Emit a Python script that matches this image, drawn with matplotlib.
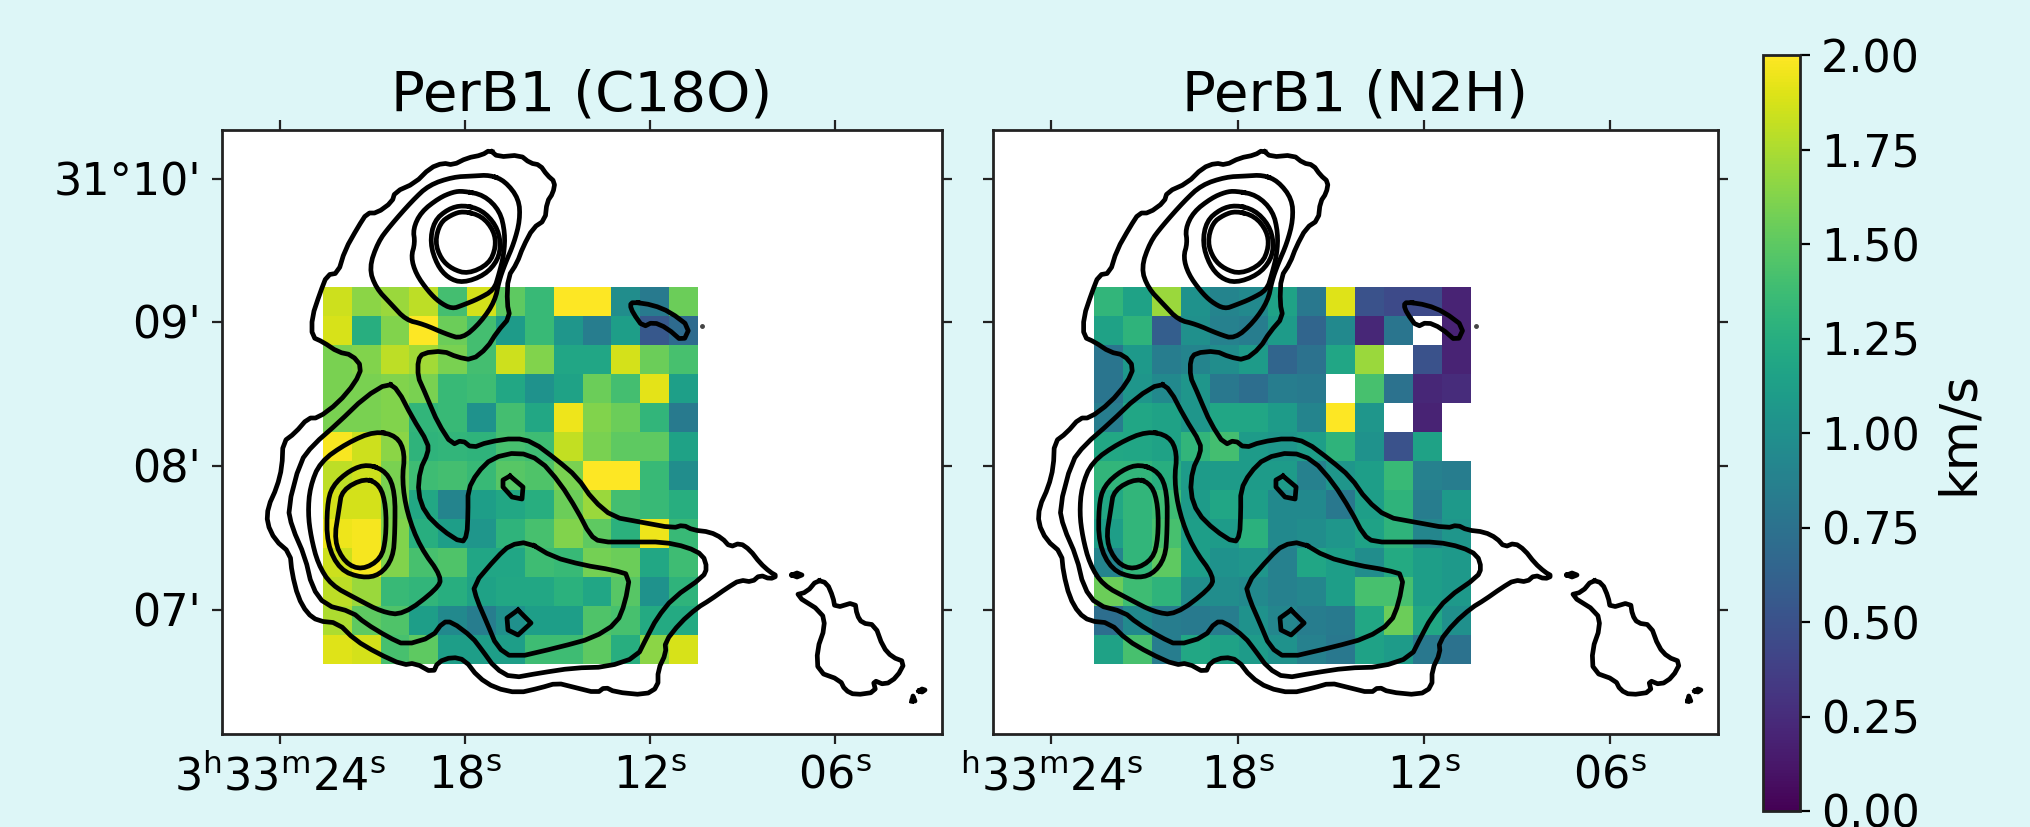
import numpy as np
import matplotlib
matplotlib.use('Agg')
import matplotlib.pyplot as plt

W, H = 2030, 827
BG = '#ddf6f7'

ra_labels = [r'$3^{\mathrm{h}}33^{\mathrm{m}}24^{\mathrm{s}}$', r'$18^{\mathrm{s}}$', r'$12^{\mathrm{s}}$', r'$06^{\mathrm{s}}$']
ra_labels2 = [r'$^{\mathrm{h}}33^{\mathrm{m}}24^{\mathrm{s}}$', r'$18^{\mathrm{s}}$', r'$12^{\mathrm{s}}$', r'$06^{\mathrm{s}}$']
dec_labels = ["31°10'", "09'", "08'", "07'"]
cbar_ticks = [0, 0.25, 0.5, 0.75, 1, 1.25, 1.5, 1.75, 2]

# map pixels, same as a wcs axes would use
ra_pix = [280, 465, 650, 835]
dec_pix = [178.7, 322, 465.7, 610]

c18o = [
    [1.85, 1.65, 1.70, 1.80, 1.40, 1.87, 1.50, 1.35, 2.00, 2.00, 0.98, 0.82, 1.55],
    [1.88, 1.25, 1.62, 2.00, 1.55, 1.40, 1.10, 1.35, 1.05, 0.85, 1.12, 0.55, 0.70],
    [1.60, 1.62, 1.80, 1.72, 1.60, 1.40, 1.85, 1.62, 1.18, 1.18, 1.87, 1.55, 1.42],
    [1.60, 1.60, 1.62, 1.60, 1.35, 1.38, 1.20, 1.02, 1.15, 1.55, 1.40, 1.92, 1.13],
    [1.60, 1.60, 1.62, 1.32, 1.35, 1.02, 1.40, 1.20, 1.95, 1.62, 1.55, 1.32, 0.82],
    [1.98, 1.85, 1.65, 1.30, 1.32, 1.30, 1.42, 1.38, 1.82, 1.60, 1.50, 1.50, 1.15],
    [1.80, 1.85, 1.60, 1.38, 1.40, 1.35, 1.48, 1.45, 1.60, 2.00, 2.00, 1.35, 0.98],
    [1.87, 1.87, 1.60, 1.20, 0.90, 1.12, 1.20, 1.25, 1.55, 1.70, 1.40, 1.35, 1.25],
    [1.95, 1.97, 1.62, 1.25, 1.12, 1.05, 1.30, 1.42, 1.62, 1.50, 1.28, 1.95, 1.35],
    [1.85, 1.97, 1.62, 1.42, 1.45, 1.18, 1.18, 1.38, 1.35, 1.58, 1.55, 1.20, 1.38],
    [1.80, 1.70, 1.35, 1.32, 1.25, 1.15, 1.20, 1.20, 1.28, 1.18, 1.48, 1.02, 1.30],
    [1.75, 1.50, 1.45, 1.12, 0.95, 0.85, 1.00, 1.12, 1.12, 1.45, 1.42, 1.22, 1.22],
    [1.90, 1.87, 1.42, 1.50, 1.12, 1.12, 1.12, 1.38, 1.38, 1.50, 1.25, 1.65, 1.88],
]

nan = float('nan')
n2h = [
    [1.32, 1.15, 1.70, 1.02, 0.90, 0.95, 1.15, 0.80, 1.90, 0.50, 0.45, 0.45, 0.20],
    [1.15, 1.30, 0.60, 1.00, 0.88, 0.85, 1.10, 0.65, 0.95, 0.22, 0.78, nan, 0.20],
    [0.78, 1.08, 0.85, 0.90, 0.98, 1.10, 0.65, 0.75, 1.18, 1.70, nan, 0.50, 0.20],
    [0.78, 1.05, 0.95, 1.05, 0.80, 0.72, 0.85, 0.82, nan, 1.42, 0.75, 0.22, 0.25],
    [0.85, 1.18, 1.15, 1.05, 1.18, 1.18, 1.10, 0.90, 2.00, 1.05, nan, 0.20, nan],
    [1.20, 1.18, 1.15, 1.32, 1.40, 1.10, 1.05, 1.12, 1.30, 1.02, 0.50, 1.15, nan],
    [1.32, 1.32, 1.25, 1.10, 1.10, 1.10, 1.10, 0.88, 1.05, 1.12, 1.35, 0.88, 0.85],
    [1.20, 1.32, 1.38, 1.10, 1.18, 1.12, 0.95, 0.95, 0.80, 1.12, 1.30, 0.85, 1.08],
    [1.12, 1.32, 1.42, 1.12, 1.10, 1.28, 0.95, 0.98, 1.05, 1.15, 1.30, 0.92, 1.05],
    [0.90, 1.32, 1.50, 1.12, 1.02, 1.05, 0.88, 1.18, 1.12, 0.98, 1.22, 1.12, 1.08],
    [1.55, 1.38, 1.30, 0.98, 0.98, 0.95, 0.88, 0.92, 1.12, 1.42, 1.42, 1.12, 1.08],
    [0.72, 0.95, 0.85, 0.82, 0.85, 1.02, 0.92, 0.85, 0.82, 1.20, 1.55, 1.20, 1.00],
    [1.15, 1.42, 0.85, 1.20, 1.15, 1.10, 1.02, 0.88, 0.80, 1.15, 1.10, 0.80, 0.75],
]

# contours, in map pixels
outer = [(490,150),(498,157),(520,155),(530,163),(540,165),(547,175),(555,182),(553,193),(547,202),(545,220),
    (533,228),(523,247),(517,263),(508,277),(507,303),(510,317),(497,332),(487,348),(472,360),(457,357),
    (443,351),(423,353),(418,360),(418,377),(423,388),(428,400),(438,423),(452,445),(462,440),(472,448),
    (488,442),(515,438),(533,442),(557,460),(577,477),(593,500),(613,517),(640,522),(673,528),(683,525),
    (693,530),(710,532),(722,538),(730,547),(740,543),(750,550),(760,563),(770,572),(777,576),(770,579),
    (760,575),(752,582),(740,580),(727,588),(710,600),(697,608),(680,623),(665,642),(666,653),(658,670),
    (658,687),(645,695),(615,692),(605,687),(597,693),(573,687),(557,683),(540,688),(518,693),(495,688),
    (478,677),(465,660),(452,657),(438,662),(433,673),(415,663),(403,665),(377,653),(355,640),(338,623),
    (318,621),(307,613),(298,597),(292,573),(290,553),(275,540),(267,523),(268,507),(277,487),(282,467),
    (283,442),(295,433),(308,418),(318,418),(338,403),(355,383),(362,367),(352,355),(338,352),(323,342),
    (312,337),(312,317),(320,293),(327,275),(338,273),(345,250),(358,227),(367,213),(377,213),(392,202),
    (395,192),(415,183),(430,168),(443,163),(453,165),(467,158),(482,155)]
island = [(817,580),(827,583),(833,597),(835,608),(855,602),(857,615),(862,623),(875,625),(883,647),(892,657),
    (905,662),(897,677),(885,685),(873,680),(876,692),(855,695),(845,690),(840,680),(818,672),(817,650),
    (825,627),(822,612),(795,595),(807,592)]
top2 = [(490,175),(505,181),(519,199),(520,220),(514,243),(505,264),(499,281),(495,301),(481,322),(462,339),
    (446,334),(423,324),(406,320),(391,304),(376,288),(369,268),(378,242),(390,226),(412,201),(429,185),
    (453,177),(473,176)]
top3 = [(463,191),(484,195),(500,211),(505,233),(504,254),(499,274),(494,290),(478,299),(463,305),(452,309),
    (439,302),(428,291),(416,274),(411,257),(415,243),(413,229),(421,212),(439,198),(453,192)]
top4 = [(463,205),(482,210),(496,225),(501,243),(498,260),(485,275),(463,283),(448,278),(437,265),(430,243),
    (434,221),(448,209)]
top5 = [(463,211),(482,216),(494,231),(496,247),(489,264),(468,274),(452,269),(441,259),(435,242),(440,223),
    (451,215)]
low2 = [(388,383),(398,390),(412,417),(428,443),(428,453),(420,470),(418,493),(425,513),(442,530),(462,543),
    (467,535),(468,513),(468,490),(477,473),(492,458),(518,452),(540,460),(560,483),(577,510),(590,535),
    (600,542),(633,542),(663,542),(687,547),(703,555),(707,568),(703,577),(673,598),(657,618),(647,637),
    (637,657),(607,667),(573,668),(540,673),(512,678),(495,668),(482,650),(472,637),(452,622),(443,622),
    (432,637),(405,645),(388,637),(365,623),(352,612),(325,605),(312,587),(305,557),(292,527),(288,508),
    (300,462),(313,445),(338,423),(365,397)]
low3 = [(375,431),(397,436),(405,453),(402,480),(407,513),(420,547),(442,577),(437,589),(403,615),(382,612),
    (357,599),(331,585),(318,564),(311,537),(308,513),(310,487),(320,462),(347,443)]
low4 = [(368,464),(387,472),(395,492),(395,531),(393,558),(380,575),(362,578),(340,570),(327,544),(327,506),
    (332,486),(350,470)]
low5 = [(365,478),(380,485),(386,506),(386,538),(381,559),(362,570),(345,563),(334,541),(339,509),(342,490)]
ring1 = [(510,476),(523,487),(522,499),(512,497),(503,487),(503,480)]
ring2 = [(518,610),(531,623),(518,635),(508,630),(507,618)]
blob = [(528,542),(553,557),(583,565),(613,570),(630,575),(625,603),(617,623),(593,638),(560,647),(513,658),
    (497,647),(487,623),(477,600),(473,585),(497,557),(510,545)]
sliver = [(633,302),(653,305),(670,312),(690,327),(683,342),(667,328),(653,322),(643,327),(633,313),(630,305)]
speck1 = [(792,575),(797,573),(802,575),(797,577)]
speck2 = [(919,691),(922,689),(925,690),(922,692)]
speck3 = [(912,701),(913,696),(915,701)]

# traced loops are coarse: the wiggly ones get one pass of corner rounding, the smooth ones two
wiggly = [outer, island, low2, blob, sliver]
smooth = [top2, top3, top4, top5, low3, low4, low5]
small = [ring1, ring2, speck1, speck2, speck3]

plt.rcParams.update({'font.size': 32, 'axes.linewidth': 2, 'axes.edgecolor': '#222222',
                     'mathtext.default': 'regular'})


def round_corners(c, passes):
    pts = np.array(c, dtype=float)
    for _ in range(passes):
        nxt = np.roll(pts, -1, axis=0)
        pts = np.column_stack([0.75 * pts + 0.25 * nxt, 0.25 * pts + 0.75 * nxt]).reshape(-1, 2)
    return np.vstack([pts, pts[0]])


def add_ax(fig, x0, y0, x1, y1):
    return fig.add_axes([x0 / W, 1 - y1 / H, (x1 - x0) / W, (y1 - y0) / H])


def draw_panel(ax, vals, title, xlabels, show_dec):
    cmap = plt.get_cmap('viridis').copy()
    cmap.set_bad('white')
    im = ax.imshow(np.array(vals, dtype=float), cmap=cmap, vmin=0, vmax=2, interpolation='nearest',
                   extent=(322.7, 697, 664, 288), aspect='auto', zorder=1)
    for group, passes in ((wiggly, 1), (smooth, 2), (small, 0)):
        for c in group:
            pts = round_corners(c, passes)
            ax.plot(pts[:, 0], pts[:, 1], color='black', lw=3.4, solid_joinstyle='round', zorder=2)
    ax.plot([702], [326], 'o', color='#444444', ms=2.5, zorder=2)
    ax.set_xlim(222, 942)
    ax.set_ylim(734, 130)
    ax.set_xticks(ra_pix)
    ax.set_xticklabels(xlabels)
    ax.set_yticks(dec_pix)
    ax.set_yticklabels(dec_labels if show_dec else [])
    ax.tick_params(top=True, right=True, length=7, width=1.6, color='#222222', pad=8)
    ax.set_title(title, fontsize=40.5, pad=14)
    return im


fig = plt.figure(figsize=(W / 100, H / 100), dpi=100, facecolor=BG)

ax1 = add_ax(fig, 222, 130, 942, 734)
im = draw_panel(ax1, c18o, 'PerB1 (C18O)', ra_labels, True)
ax2 = add_ax(fig, 993, 130, 1718, 734)
draw_panel(ax2, n2h, 'PerB1 (N2H)', ra_labels2, False)

cax = add_ax(fig, 1763, 55, 1800, 811)
cb = fig.colorbar(im, cax=cax)
cb.set_ticks(cbar_ticks)
cb.set_ticklabels(['%.2f' % t for t in cbar_ticks])
cb.ax.tick_params(length=7, width=1.6, pad=8)
cb.set_label('km/s', fontsize=37, labelpad=10)

fig.savefig('out.png', dpi=100, facecolor=BG)
